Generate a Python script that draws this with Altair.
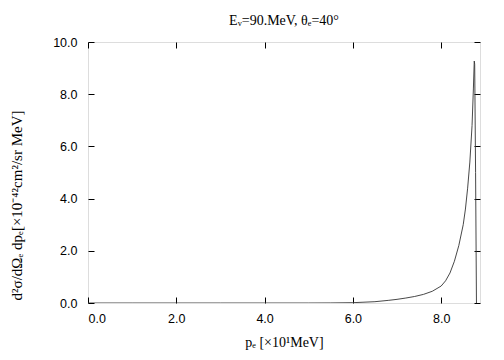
import altair as alt
import pandas as pd

# electron momentum [x10 MeV] and cross section [x10^-42 cm^2/sr MeV]
p_e = [0.0, 1.0, 2.0, 3.0, 4.0, 5.0, 5.5, 6.0, 6.5, 6.8, 7.0, 7.2, 7.4, 7.6, 7.8,
       8.0, 8.1, 8.2, 8.3, 8.4, 8.5, 8.55, 8.6, 8.65, 8.7, 8.73, 8.75, 8.76, 8.78, 8.80]
xsec = [0.0, 0.0, 0.0, 0.0, 0.0, 0.0, 0.003, 0.012, 0.05, 0.10, 0.14, 0.19, 0.25, 0.33, 0.45,
        0.65, 0.85, 1.15, 1.6, 2.2, 3.0, 3.6, 4.4, 5.4, 6.8, 8.2, 9.27, 9.15, 5.0, 0.0]

x_ticks = [0, 2, 4, 6, 8]
y_ticks = [0, 2, 4, 6, 8, 10]

title_text = "Eᵥ=90.MeV,  θₑ=40°"
x_title = "pₑ [×10¹MeV]"
y_title = "d²σ/dΩₑ dpₑ[×10⁻⁴²cm²/sr MeV]"

df = pd.DataFrame({"p": p_e, "s": xsec})

TICK = 6
xs = alt.Scale(domain=[0, 8.88], nice=False, zero=False)
ys = alt.Scale(domain=[0, 10], nice=False)

label_font = "Liberation Sans"
serif = "Liberation Serif"

line = alt.Chart(df).mark_line(color="#333333", strokeWidth=0.9, clip=True).encode(
    x=alt.X("p:Q", scale=xs, axis=alt.Axis(
        orient="bottom", values=x_ticks, format=".1f", title=x_title,
        offset=-TICK, tickSize=TICK, tickColor="black", domain=False, grid=False,
        labelPadding=9, labelFlush=True, labelFont=label_font, labelFontSize=12.5,
        labelColor="black", titleFont=serif, titleFontSize=14, titleFontWeight="normal",
        titleColor="black", titlePadding=11)),
    y=alt.Y("s:Q", scale=ys, axis=alt.Axis(
        orient="left", values=y_ticks, format=".1f", title=y_title,
        offset=-TICK, tickSize=TICK, tickColor="black", domain=False, grid=False,
        labelPadding=11, labelFont=label_font, labelFontSize=12.5, labelColor="black",
        titleFont=serif, titleFontSize=15, titleFontWeight="normal", titleColor="black",
        titleAngle=-90, titleX=-70, titleY=163, titleAlign="center")),
)

mirror = alt.Chart(df).mark_line(opacity=0).encode(
    x=alt.X("p:Q", scale=xs, axis=alt.Axis(
        orient="top", values=x_ticks, labels=False, title="",
        offset=-TICK, tickSize=TICK, tickColor="black", domain=False, grid=False)),
    y=alt.Y("s:Q", scale=ys, axis=alt.Axis(
        orient="right", values=y_ticks, labels=False, title="",
        offset=-TICK, tickSize=TICK, tickColor="black", domain=False, grid=False)),
)

chart = alt.layer(line, mirror).resolve_axis(
    x="independent", y="independent"
).properties(
    width=392, height=261,
    autosize=alt.AutoSizeParams(type="none"),
    padding={"left": 80, "top": 34, "right": 16, "bottom": 49},
    title=alt.TitleParams(text=title_text, font=serif, fontSize=14,
                          fontWeight="normal", color="black", anchor="middle", offset=8),
).configure_view(stroke="black", strokeWidth=2).configure(background="white")

chart.save("out.html", embed_options={"renderer": "svg", "actions": False})
